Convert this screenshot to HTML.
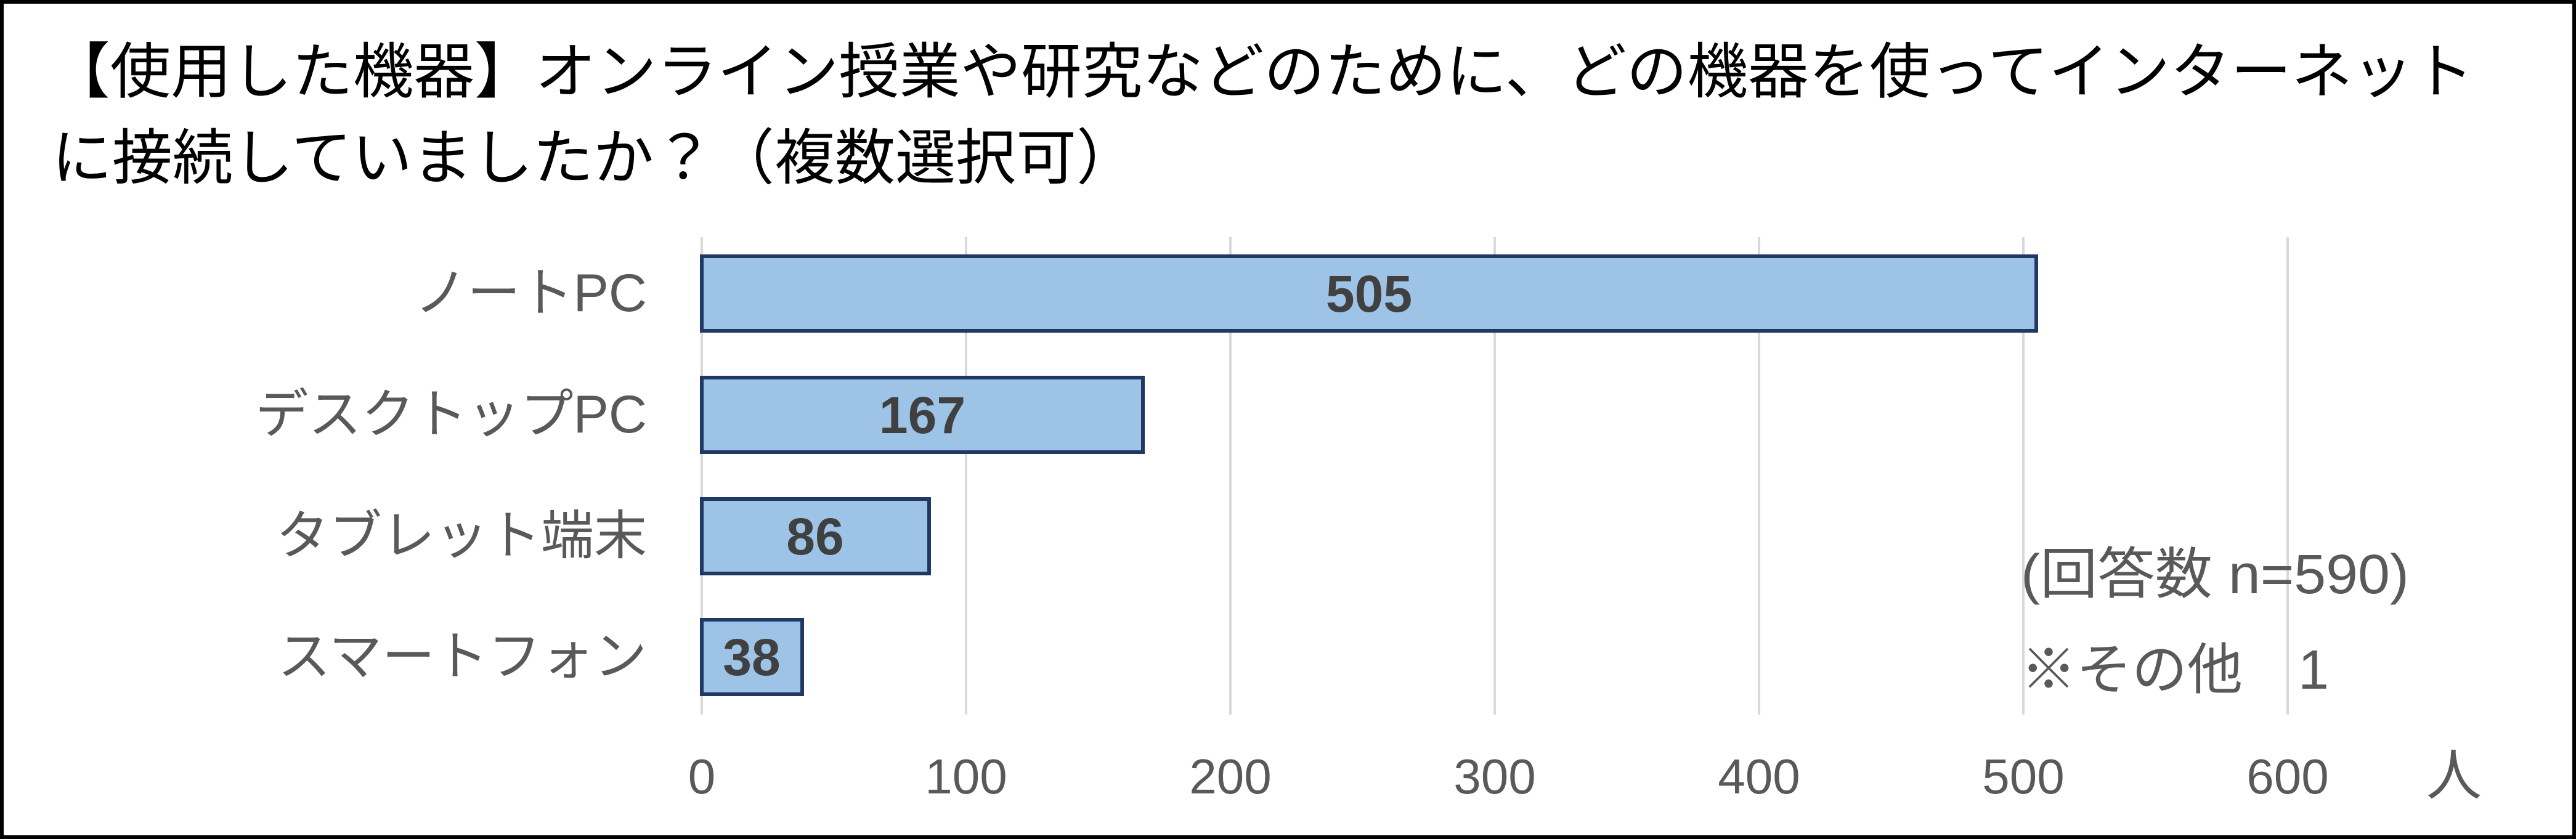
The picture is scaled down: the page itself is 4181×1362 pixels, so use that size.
<!DOCTYPE html>
<html><head><meta charset="utf-8"><style>
html,body{margin:0;padding:0;background:#fff}
svg{display:block}
</style></head><body>
<svg width="4181" height="1362" viewBox="0 0 4181 1362" xmlns="http://www.w3.org/2000/svg">
<rect x="3" y="3" width="4175" height="1356" fill="#fff" stroke="#000" stroke-width="6"/>
<g font-family="'Liberation Sans','Noto Sans CJK JP',sans-serif" font-size="98" fill="#000">
<text x="80" y="150" textLength="3935" lengthAdjust="spacingAndGlyphs">【使用した機器】オンライン授業や研究などのために、どの機器を使ってインターネット</text>
<text x="84" y="290">に接続していましたか？（複数選択可）</text>
</g>
<g stroke="#d9d9d9" stroke-width="4">
<line x1="1139" y1="385" x2="1139" y2="1160"/>
<line x1="1568" y1="385" x2="1568" y2="1160"/>
<line x1="1997" y1="385" x2="1997" y2="1160"/>
<line x1="2426" y1="385" x2="2426" y2="1160"/>
<line x1="2855" y1="385" x2="2855" y2="1160"/>
<line x1="3284" y1="385" x2="3284" y2="1160"/>
<line x1="3713" y1="385" x2="3713" y2="1160"/>
</g>
<g fill="#9dc3e6" stroke="#1f3864" stroke-width="6">
<rect x="1139" y="416" width="2166" height="121"/>
<rect x="1139" y="613" width="716" height="121"/>
<rect x="1139" y="810" width="369" height="121"/>
<rect x="1139" y="1006" width="163" height="121"/>
</g>
<g font-family="'Liberation Sans',sans-serif" font-size="84" font-weight="bold" fill="#404040" text-anchor="middle">
<text x="2222" y="506">505</text>
<text x="1497" y="703">167</text>
<text x="1323" y="900">86</text>
<text x="1220" y="1096">38</text>
</g>
<g font-family="'Liberation Sans','Noto Sans CJK JP',sans-serif" font-size="86" fill="#595959" text-anchor="end">
<text x="1050" y="505">ノートPC</text>
<text x="1050" y="702">デスクトップPC</text>
<text x="1050" y="899">タブレット端末</text>
<text x="1050" y="1095">スマートフォン</text>
</g>
<g font-family="'Liberation Sans',sans-serif" font-size="80" fill="#595959" text-anchor="middle">
<text x="1139" y="1288">0</text>
<text x="1568" y="1288">100</text>
<text x="1997" y="1288">200</text>
<text x="2426" y="1288">300</text>
<text x="2855" y="1288">400</text>
<text x="3284" y="1288">500</text>
<text x="3713" y="1288">600</text>
</g>
<g font-family="'Liberation Sans','Noto Sans CJK JP',sans-serif" font-size="90" fill="#595959">
<text x="3983" y="1290" text-anchor="middle">人</text>
<text x="3280" y="963" textLength="630" lengthAdjust="spacingAndGlyphs">(回答数 n=590)</text>
<text x="3280" y="1118">※その他　1</text>
</g>
</svg>
</body></html>
